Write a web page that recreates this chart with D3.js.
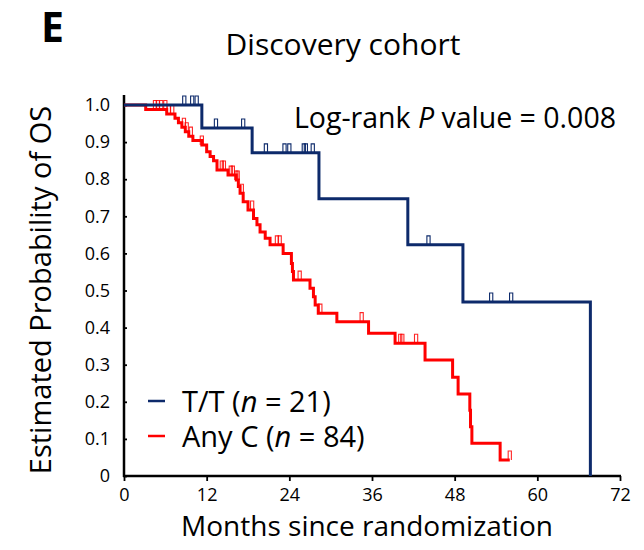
<!DOCTYPE html>
<html><head><meta charset="utf-8">
<script src="https://cdn.jsdelivr.net/npm/d3@7"></script>
<style>
body{margin:0;background:#fff;}
text{font-family:"Open Sans","Noto Sans",sans-serif;fill:#000;}
</style></head>
<body><svg id="c" width="644" height="550"></svg>
<script>
// ---- data ----
const seriesNames = ["T/T", "Any C"];
const seriesN = [21, 84];
// T/T: event times (months) and survival after each event
const ttTimes = [11.3, 18.6, 28.3, 41.2, 49.2, 67.7];
const ttSurv  = [0.938, 0.871, 0.747, 0.623, 0.469, 0];
const ttCensor = [8.75, 9.9, 10.55, 13.35, 17.3, 20.6, 23.3, 24.0, 26.1, 26.4, 27.4, 44.2, 53.3, 56.2];
// Any C
const acTimes = [3.15, 6.2, 7.4, 7.9, 8.4, 8.9, 9.4, 10.0, 11.3, 12.0, 12.5, 13.0, 13.5, 15.1, 16.3, 16.6, 16.85, 17.3, 18.0, 18.8, 19.3, 19.75, 20.5, 21.2, 23.1, 24.3, 24.45, 24.6, 27.0, 27.5, 27.75, 28.2, 30.9, 35.5, 39.35, 43.7, 47.7, 48.5, 50.2, 50.3, 50.5, 54.6];
const acSurv  = [0.988, 0.976, 0.964, 0.952, 0.940, 0.928, 0.916, 0.904, 0.892, 0.874, 0.861, 0.850, 0.825, 0.811, 0.798, 0.780, 0.762, 0.739, 0.717, 0.694, 0.677, 0.658, 0.641, 0.623, 0.600, 0.573, 0.551, 0.528, 0.506, 0.483, 0.461, 0.439, 0.416, 0.385, 0.358, 0.313, 0.266, 0.221, 0.177, 0.133, 0.088, 0.043];
const acCensor = [4.5, 4.9, 5.4, 6.0, 6.5, 7.0, 8.7, 9.1, 9.7, 11.3, 14.2, 14.5, 15.5, 15.8, 16.3, 16.5, 17.1, 18.6, 22.2, 22.6, 25.5, 28.5, 34.5, 40.1, 40.4, 42.4, 56.0];
const acEnd = 56.0;
const xTicks = [0, 12, 24, 36, 48, 60, 72];
const yTicks = [0, 0.1, 0.2, 0.3, 0.4, 0.5, 0.6, 0.7, 0.8, 0.9, 1.0];
const yTickLabels = ["0", "0.1", "0.2", "0.3", "0.4", "0.5", "0.6", "0.7", "0.8", "0.9", "1.0"];
const colors = ["#0d2a6b", "#ff0000"];

// ---- chart ----
const svg = d3.select("#c");
const x = d3.scaleLinear().domain([0, 72]).range([124, 620]);
const y = d3.scaleLinear().domain([0, 1]).range([476, 105]);

function survAt(times, surv, t) {
  let s = 1;
  for (let i = 0; i < times.length; i++) { if (times[i] <= t) s = surv[i]; }
  return s;
}
const line = d3.line().x(d => x(d[0])).y(d => y(d[1])).curve(d3.curveStepAfter);

// axes
const xAxis = d3.axisBottom(x).tickValues(xTicks).tickSize(5).tickFormat(d3.format("d"));
const gx = svg.append("g").attr("transform", "translate(0,476)").call(xAxis);
gx.select(".domain").attr("d", "M123,0H621").attr("stroke", "#000").attr("stroke-width", 2.5);
gx.selectAll(".tick line").attr("stroke", "#000").attr("stroke-width", 1.8);
gx.selectAll(".tick text").attr("y", 12).attr("dy", "0.71em").style("font-size", "18px").style("font-family", "'Open Sans',sans-serif");

const yAxis = d3.axisRight(y).tickValues(yTicks).tickSize(3).tickFormat((d, i) => yTickLabels[i]);
const gy = svg.append("g").attr("transform", "translate(124,0)").call(yAxis);
gy.select(".domain").attr("d", "M0,95V477").attr("stroke", "#000").attr("stroke-width", 2.5);
gy.selectAll(".tick line").attr("stroke", "#000").attr("stroke-width", 1.8);
gy.selectAll(".tick text").attr("x", -14).attr("text-anchor", "end").style("font-size", "18px").style("font-family", "'Open Sans',sans-serif");

// curves
function censorPath(t, s) {
  const cx = x(t), cy = y(s);
  return `M${cx - 1.6},${cy}V${cy - 9}H${cx + 1.6}V${cy}`;
}
// Any C first, T/T on top
const acPts = [[0, 1]];
acTimes.forEach((t, i) => acPts.push([t, acSurv[i]]));
acPts.push([acEnd, acSurv[acSurv.length - 1]]);
svg.append("path").attr("d", line(acPts)).attr("fill", "none").attr("stroke", colors[1]).attr("stroke-width", 3);
svg.append("g").selectAll("path").data(acCensor).join("path")
  .attr("d", t => censorPath(t, survAt(acTimes, acSurv, t)))
  .attr("fill", "none").attr("stroke", colors[1]).attr("stroke-width", 1.1).attr("stroke-opacity", 0.85);

const ttPts = [[0, 1]];
ttTimes.forEach((t, i) => ttPts.push([t, ttSurv[i]]));
svg.append("path").attr("d", line(ttPts)).attr("fill", "none").attr("stroke", colors[0]).attr("stroke-width", 3);
svg.append("g").selectAll("path").data(ttCensor).join("path")
  .attr("d", t => censorPath(t, survAt(ttTimes, ttSurv, t)))
  .attr("fill", "none").attr("stroke", colors[0]).attr("stroke-width", 1.1);

// texts
svg.append("text").attr("x", 41).attr("y", 42).text("E")
  .style("font-size", "41px").style("font-weight", "bold").style("font-family", "'Open Sans',sans-serif");
svg.append("text").attr("x", 343).attr("y", 55).attr("text-anchor", "middle").text("Discovery cohort")
  .style("font-size", "30px");
const lr = svg.append("text").attr("x", 616).attr("y", 128).attr("text-anchor", "end").style("font-size", "28.5px");
lr.append("tspan").text("Log-rank ");
lr.append("tspan").style("font-style", "italic").text("P");
lr.append("tspan").text(" value = 0.008");

svg.append("text").attr("transform", "translate(51,290) rotate(-90)").attr("text-anchor", "middle")
  .text("Estimated Probability of OS").style("font-size", "29px");
svg.append("text").attr("x", 367).attr("y", 536).attr("text-anchor", "middle")
  .text("Months since randomization").style("font-size", "28px");

// legend
const legY = [401, 436];
seriesNames.forEach((nm, i) => {
  svg.append("line").attr("x1", 148).attr("x2", 165).attr("y1", legY[i]).attr("y2", legY[i])
    .attr("stroke", colors[i]).attr("stroke-width", 2.5);
  const t = svg.append("text").attr("x", 182).attr("y", legY[i] + 11).style("font-size", "29px");
  t.append("tspan").text(nm + " (");
  t.append("tspan").style("font-style", "italic").text("n");
  t.append("tspan").text(" = " + seriesN[i] + ")");
});
</script></body></html>
